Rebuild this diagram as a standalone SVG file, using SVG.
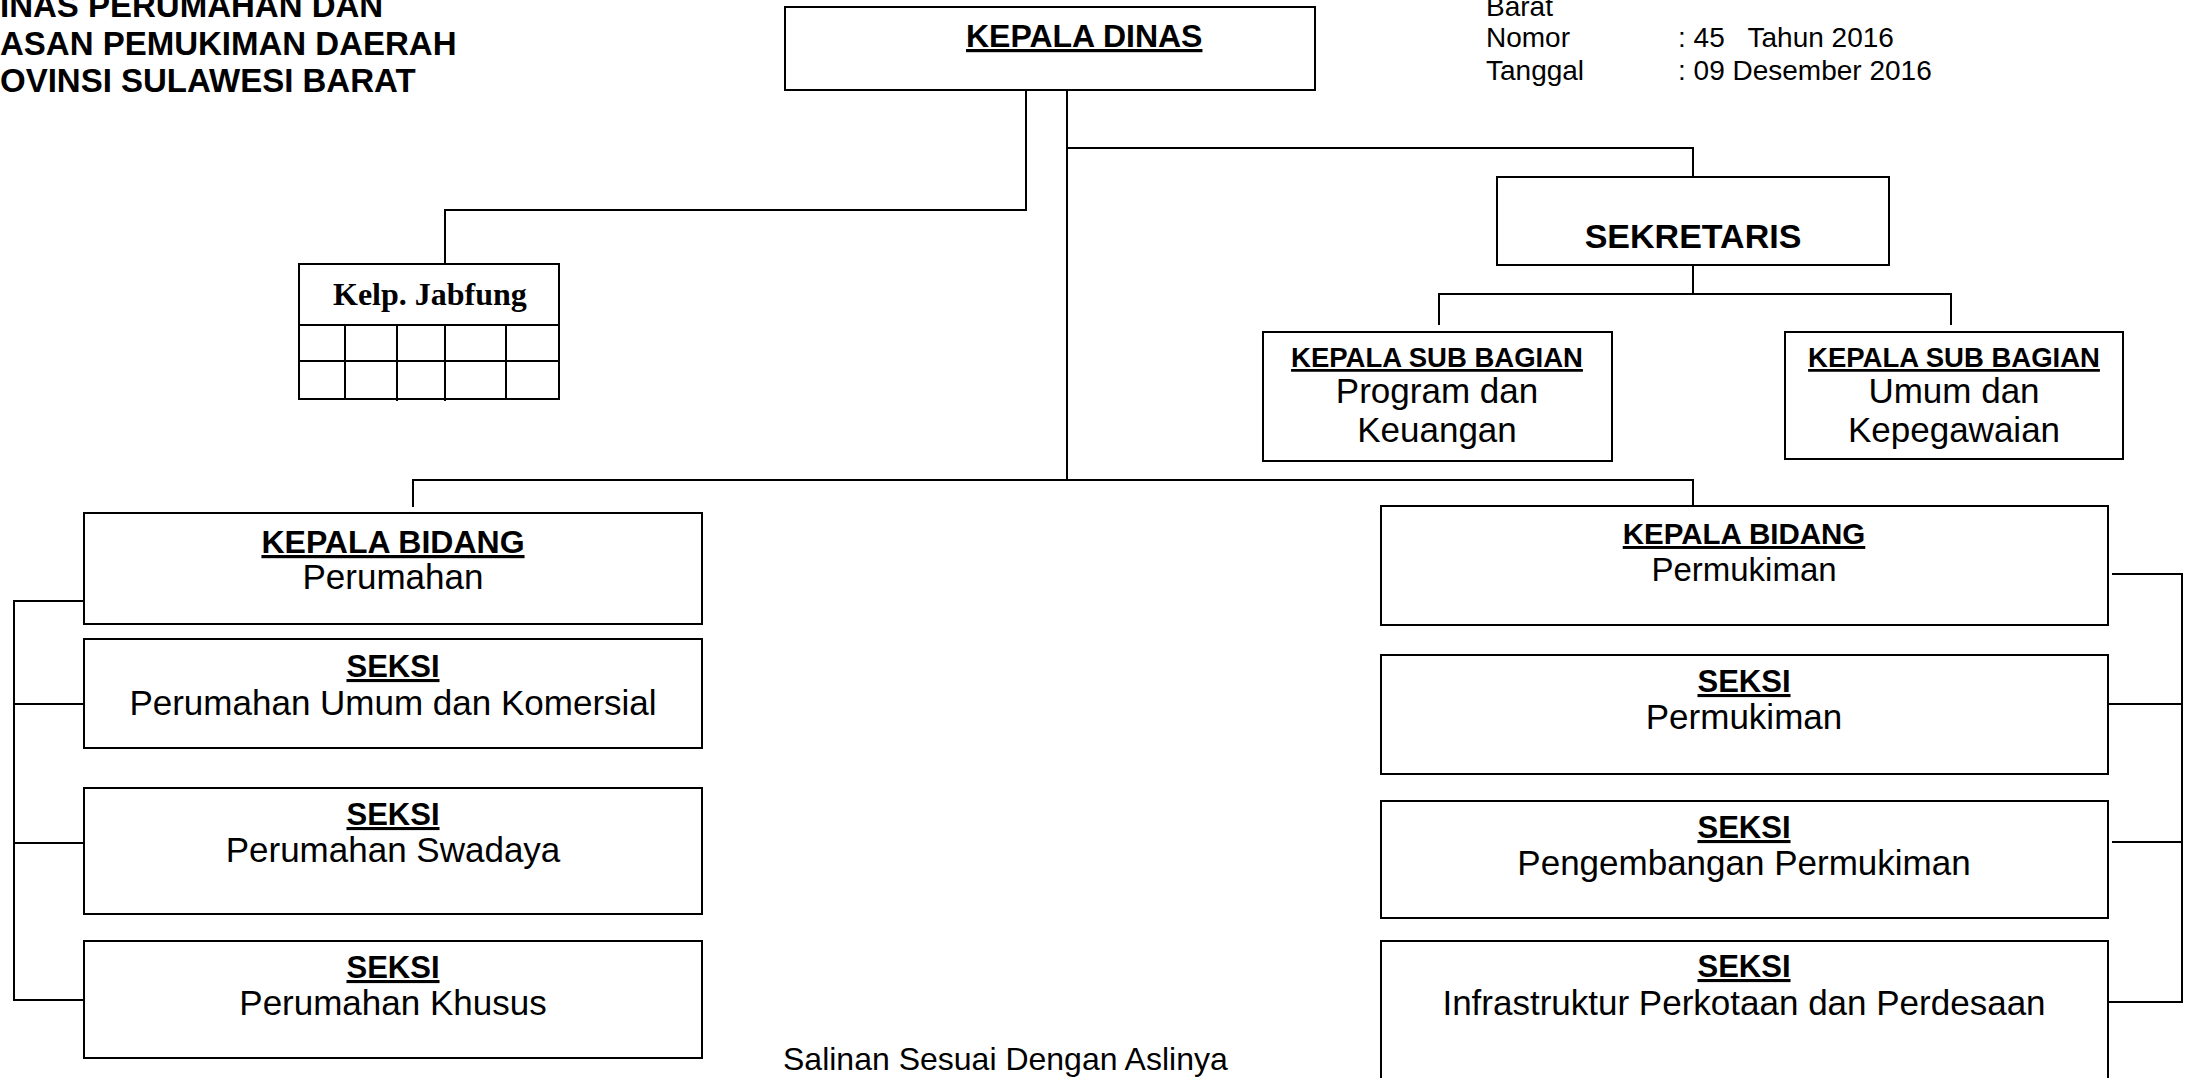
<svg xmlns="http://www.w3.org/2000/svg" width="2195" height="1078" viewBox="0 0 2195 1078">
<style>
.bx{fill:none;stroke:#000;stroke-width:2}
.ln{fill:none;stroke:#000;stroke-width:2}
.t{font-family:"Liberation Sans",Arial,sans-serif;fill:#000}
.b{font-weight:bold}
.u{text-decoration:underline}
.c{text-anchor:middle}
.sr{font-family:"Liberation Serif","Times New Roman",serif;font-weight:bold;fill:#000}
</style>
<rect width="2195" height="1078" fill="#fff"/>
<g id="header">
<text class="t b" x="0" y="17" font-size="33">INAS PERUMAHAN DAN</text>
<text class="t b" x="0" y="55" font-size="33">ASAN PEMUKIMAN DAERAH</text>
<text class="t b" x="0" y="92" font-size="33">OVINSI SULAWESI BARAT</text>
</g>
<g id="meta">
<text class="t" x="1486" y="16" font-size="28">Barat</text>
<text class="t" x="1486" y="47" font-size="28">Nomor</text>
<text class="t" x="1678" y="47" font-size="28" xml:space="preserve">: 45   Tahun 2016</text>
<text class="t" x="1486" y="80" font-size="28">Tanggal</text>
<text class="t" x="1678" y="80" font-size="28">: 09 Desember 2016</text>
</g>
<g id="connectors">
<path class="ln" d="M1026,90 V210 H445 V264"/>
<path class="ln" d="M1067,90 V480"/>
<path class="ln" d="M1067,148 H1693 V177"/>
<path class="ln" d="M413,507 V480 H1693 V506"/>
<path class="ln" d="M1693,265 V294"/>
<path class="ln" d="M1439,325 V294 H1951 V325"/>
<path class="ln" d="M84,601 H14 V1000 H84"/>
<path class="ln" d="M14,704 H84"/>
<path class="ln" d="M14,843 H84"/>
<path class="ln" d="M2112,574 H2182 V1002 H2108"/>
<path class="ln" d="M2108,704 H2182"/>
<path class="ln" d="M2112,842 H2182"/>
</g>
<g id="kepala-dinas">
<rect class="bx" x="785" y="7" width="530" height="83"/>
<text class="t b u" x="966" y="47" font-size="32">KEPALA DINAS</text>
</g>
<g id="kelp-jabfung">
<rect class="bx" x="299" y="264" width="260" height="135"/>
<path class="ln" d="M299,325 H559 M299,361 H559 M345,325 V399 M397,325 V401 M445,325 V401 M506,325 V399"/>
<text class="sr" x="333" y="305" font-size="32">Kelp. Jabfung</text>
</g>
<g id="sekretaris">
<rect class="bx" x="1497" y="177" width="392" height="88"/>
<text class="t b c" x="1693" y="248" font-size="34">SEKRETARIS</text>
</g>
<g id="subbag-program">
<rect class="bx" x="1263" y="332" width="349" height="129"/>
<text class="t b u c" x="1437" y="367" font-size="27.5">KEPALA SUB BAGIAN</text>
<text class="t c" x="1437" y="403" font-size="35">Program dan</text>
<text class="t c" x="1437" y="442" font-size="35">Keuangan</text>
</g>
<g id="subbag-umum">
<rect class="bx" x="1785" y="332" width="338" height="127"/>
<text class="t b u c" x="1954" y="367" font-size="27.5">KEPALA SUB BAGIAN</text>
<text class="t c" x="1954" y="403" font-size="35">Umum dan</text>
<text class="t c" x="1954" y="442" font-size="35">Kepegawaian</text>
</g>
<g id="bidang-perumahan">
<rect class="bx" x="84" y="513" width="618" height="111"/>
<text class="t b u c" x="393" y="553" font-size="32">KEPALA BIDANG</text>
<text class="t c" x="393" y="589" font-size="35">Perumahan</text>
</g>
<g id="seksi-umum-komersial">
<rect class="bx" x="84" y="639" width="618" height="109"/>
<text class="t b u c" x="393" y="677" font-size="31">SEKSI</text>
<text class="t c" x="393" y="715" font-size="35">Perumahan Umum dan Komersial</text>
</g>
<g id="seksi-swadaya">
<rect class="bx" x="84" y="788" width="618" height="126"/>
<text class="t b u c" x="393" y="825" font-size="31">SEKSI</text>
<text class="t c" x="393" y="862" font-size="35">Perumahan Swadaya</text>
</g>
<g id="seksi-khusus">
<rect class="bx" x="84" y="941" width="618" height="117"/>
<text class="t b u c" x="393" y="978" font-size="31">SEKSI</text>
<text class="t c" x="393" y="1015" font-size="35">Perumahan Khusus</text>
</g>
<g id="bidang-permukiman">
<rect class="bx" x="1381" y="506" width="727" height="119"/>
<text class="t b u c" x="1744" y="544" font-size="29.5">KEPALA BIDANG</text>
<text class="t c" x="1744" y="581" font-size="33">Permukiman</text>
</g>
<g id="seksi-permukiman">
<rect class="bx" x="1381" y="655" width="727" height="119"/>
<text class="t b u c" x="1744" y="692" font-size="31">SEKSI</text>
<text class="t c" x="1744" y="729" font-size="35">Permukiman</text>
</g>
<g id="seksi-pengembangan">
<rect class="bx" x="1381" y="801" width="727" height="117"/>
<text class="t b u c" x="1744" y="838" font-size="31">SEKSI</text>
<text class="t c" x="1744" y="875" font-size="35">Pengembangan Permukiman</text>
</g>
<g id="seksi-infrastruktur">
<rect class="bx" x="1381" y="941" width="727" height="200"/>
<text class="t b u c" x="1744" y="977" font-size="31">SEKSI</text>
<text class="t c" x="1744" y="1015" font-size="35">Infrastruktur Perkotaan dan Perdesaan</text>
</g>
<g id="footer">
<text class="t" x="783" y="1070" font-size="32">Salinan Sesuai Dengan Aslinya</text>
</g>
</svg>
